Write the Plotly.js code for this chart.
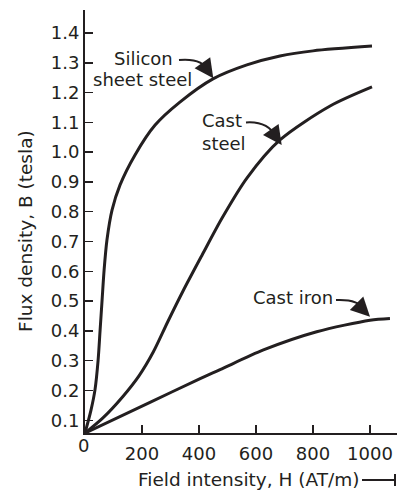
<!DOCTYPE html>
<html>
<head>
<meta charset="utf-8">
<script src="https://cdn.plot.ly/plotly-3.0.1.min.js"></script>
<style>html,body{margin:0;padding:0;background:#fff;}#chart{width:397px;height:492px;}</style>
</head>
<body>
<div id="chart"></div>
<script>
// ---- data ----
const siliconH = [0, 21, 35, 46, 53, 60, 67, 77, 95, 123, 175, 246, 333, 449, 568, 684, 800, 1007];
const siliconB = [0.057, 0.134, 0.202, 0.302, 0.403, 0.504, 0.604, 0.705, 0.806, 0.89, 0.99, 1.091, 1.168, 1.246, 1.293, 1.323, 1.34, 1.356];
const castSteelH = [0, 63, 133, 190, 240, 290, 344, 411, 481, 568, 684, 860, 1007];
const castSteelB = [0.057, 0.108, 0.18, 0.25, 0.33, 0.43, 0.534, 0.655, 0.779, 0.913, 1.041, 1.155, 1.219];
const castIronH = [0, 228, 404, 474, 626, 813, 1000, 1070];
const castIronB = [0.057, 0.16, 0.24, 0.27, 0.336, 0.397, 0.436, 0.442];
const yTicks = [0.1, 0.2, 0.3, 0.4, 0.5, 0.6, 0.7, 0.8, 0.9, 1.0, 1.1, 1.2, 1.3, 1.4];
const xTicks = [200, 400, 600, 800, 1000];

// ---- layout geometry ----
const W = 397, H = 492;
const ML = 85, MR = 0, MT = 10, MB = 59;
const PW = W - ML - MR, PH = H - MT - MB;
const XMAX = 1094.7;
const YTOP = 1.4772, YBOT = 0.0573;
const ink = '#231f20';
const FONT = 'DejaVu Sans, Liberation Sans, Arial, sans-serif';
const FS = 18;
const FT = 18.5;

function px2x(px) { return (px - ML) / PW * XMAX; }
function py2y(py) { return YTOP - (py - MT) / PH * (YTOP - YBOT); }
function px2p(px) { return (px - ML) / PW; }
function py2p(py) { return (MT + PH - py) / PH; }
function curvePath(x0, y0, cx, cy, x1, y1) {
  return 'M ' + px2x(x0) + ',' + py2y(y0) + ' Q ' + px2x(cx) + ',' + py2y(cy) + ' ' + px2x(x1) + ',' + py2y(y1);
}

const lineStyle = {color: ink, width: 3, shape: 'spline', smoothing: 0.8};
const traces = [
  {x: siliconH, y: siliconB, mode: 'lines', name: 'Silicon sheet steel', line: lineStyle, hoverinfo: 'skip'},
  {x: castSteelH, y: castSteelB, mode: 'lines', name: 'Cast steel', line: lineStyle, hoverinfo: 'skip'},
  {x: castIronH, y: castIronB, mode: 'lines', name: 'Cast iron', line: lineStyle, hoverinfo: 'skip'}
];

function label(text, px, py, anchor, size, angle) {
  return {text: text, xref: 'paper', yref: 'paper', x: px2p(px), y: py2p(py), xanchor: anchor || 'center', yanchor: 'middle', showarrow: false, textangle: angle || 0, font: {family: FONT, size: size || FS, color: ink}};
}
function head(tx, ty, ax, ay) {
  return {text: '', x: px2x(tx), y: py2y(ty), xref: 'x', yref: 'y', showarrow: true, arrowhead: 2, arrowsize: 1.9, arrowwidth: 2, arrowcolor: ink, ax: ax, ay: ay, standoff: 0};
}

const layout = {
  width: W, height: H,
  margin: {l: ML, r: MR, t: MT, b: MB, pad: 0},
  paper_bgcolor: '#fff', plot_bgcolor: '#fff',
  showlegend: false,
  font: {family: FONT, size: FS, color: ink},
  xaxis: {
    range: [0, XMAX], tickvals: xTicks, ticks: 'inside', ticklen: 8, tickwidth: 1.5, tickcolor: ink,
    showline: true, linecolor: ink, linewidth: 2, showgrid: false, zeroline: false,
    ticklabelstandoff: 3
  },
  yaxis: {
    range: [YBOT, YTOP], tickvals: yTicks, tickformat: '.1f', ticks: 'inside', ticklen: 8, tickwidth: 1.5, tickcolor: ink,
    showline: true, linecolor: ink, linewidth: 2, showgrid: false, zeroline: false
  },
  shapes: [
    {type: 'path', xref: 'x', yref: 'y', path: curvePath(179, 60, 203, 58, 208, 71), line: {color: ink, width: 2}},
    {type: 'path', xref: 'x', yref: 'y', path: curvePath(246, 122.5, 268, 121, 276, 137), line: {color: ink, width: 2}},
    {type: 'path', xref: 'x', yref: 'y', path: curvePath(336, 300, 358, 299, 364, 309), line: {color: ink, width: 2}},
    {type: 'line', xref: 'paper', yref: 'paper', x0: px2p(362), x1: px2p(395), y0: py2p(480), y1: py2p(480), line: {color: ink, width: 2}},
    {type: 'line', xref: 'paper', yref: 'paper', x0: px2p(395), x1: px2p(395), y0: py2p(474), y1: py2p(486), line: {color: ink, width: 2}}
  ],
  annotations: [
    label('Field intensity, H (AT/m)', 249, 479, 'center', FT),
    label('Flux density, B (tesla)', 25, 231, 'center', FT, -90),
    label('Silicon', 143, 58),
    label('sheet steel', 142, 79),
    label('Cast', 200, 120.5, 'left'),
    label('steel', 200, 143, 'left'),
    label('Cast iron', 251, 297, 'left'),
    head(213.3, 78.3, -7, -10),
    head(281.7, 145, -7, -10),
    head(370, 316.7, -8, -8),
    {text: '0', xref: 'x', yref: 'paper', x: 0, y: 0, xanchor: 'center', yanchor: 'top', xshift: -2, yshift: 0, showarrow: false, font: {family: FONT, size: FS, color: ink}}
  ]
};

Plotly.newPlot('chart', traces, layout, {staticPlot: true, displayModeBar: false});
</script>
</body>
</html>
